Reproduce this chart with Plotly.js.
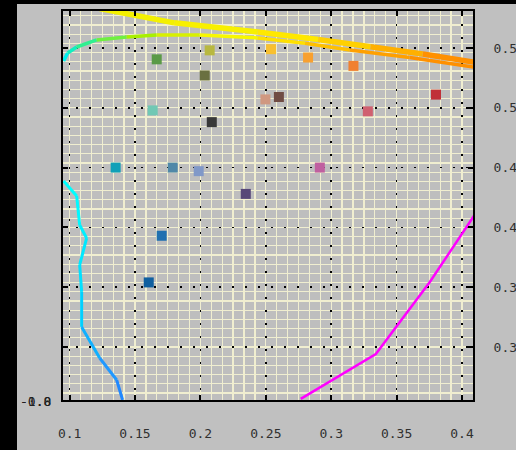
<!DOCTYPE html>
<html>
<head>
<meta charset="utf-8">
<script src="https://cdn.plot.ly/plotly-3.0.1.min.js"></script>
<style>html,body{margin:0;padding:0;background:#c0c0c0;overflow:hidden}#chart{width:516px;height:450px}</style>
</head>
<body>
<div id="chart"></div>
<script>
// ---- data ----
const xTickVals = [0.1, 0.15, 0.2, 0.25, 0.3, 0.35, 0.4];
const xTickText = ["0.1", "0.15", "0.2", "0.25", "0.3", "0.35", "0.4"];
const yTickVals = [0.3, 0.35, 0.4, 0.45, 0.5, 0.55];
const yTickText = ["0.3", "0.35", "0.4", "0.45", "0.5", "0.55"];

const squareX = [0.1666, 0.2071, 0.2033, 0.1635, 0.2087, 0.1352, 0.1788, 0.1987, 0.2347,
                 0.2540, 0.2823, 0.3170, 0.2497, 0.2600, 0.3280, 0.3801, 0.2913, 0.1704, 0.1605];
const squareY = [0.5405, 0.5480, 0.5270, 0.4978, 0.4880, 0.4500, 0.4500, 0.4470, 0.4280,
                 0.5490, 0.5420, 0.5350, 0.5070, 0.5090, 0.4970, 0.5110, 0.4500, 0.3930, 0.3540];
const squareColors = ["#5a9a46", "#b8b840", "#6a7040", "#70c8b4", "#383838", "#10a0b8", "#5088a8", "#8098c8", "#584878",
                      "#f8c030", "#f8a030", "#f08030", "#d09880", "#704c44", "#d06070", "#c03038", "#c060a0", "#2070b0", "#1060a0"];

// thick yellow -> orange line
const lineAX = [0.1230, 0.1800, 0.2438, 0.2900, 0.3300, 0.3700, 0.4100];
const lineAY = [0.5830, 0.5710, 0.5634, 0.5570, 0.5510, 0.5450, 0.5380];
const lineAColors = ["#f4f000", "#f8f000", "#ffe800", "#ffd000", "#ffb000", "#ff9000"];

// thinner cyan -> green -> yellow -> orange line
const lineBX = [0.0954, 0.0985, 0.1054, 0.1207, 0.1436, 0.1666, 0.1995, 0.2438, 0.2800, 0.3142, 0.3600, 0.4100];
const lineBY = [0.5391, 0.5458, 0.5508, 0.5567, 0.5592, 0.5609, 0.5609, 0.5584, 0.5540, 0.5483, 0.5420, 0.5338];
const lineBColors = ["#00f0f0", "#10f0c0", "#30f090", "#70f040", "#a8f000", "#d8f000", "#f8f800", "#ffe000", "#ffc000", "#ffa000", "#ff9000"];

// cyan -> blue line on the left
const lineCX = [0.0954, 0.1054, 0.1077, 0.1130, 0.1077, 0.1092, 0.1092, 0.1230, 0.1360, 0.1405];
const lineCY = [0.4388, 0.4263, 0.4020, 0.3910, 0.3686, 0.3460, 0.3168, 0.2908, 0.2724, 0.2557];
const lineCColors = ["#00ffff", "#00f8ff", "#00f0ff", "#00e8ff", "#00e0ff", "#00d0ff", "#10b0ff", "#2098ff", "#2088ff"];

// magenta line bottom right
const lineDX = [0.2767, 0.3341, 0.3754, 0.4100];
const lineDY = [0.2566, 0.2942, 0.3544, 0.4110];
const lineDColor = "#ff00ff";

// ---- build traces ----
const traces = [];
function segTraces(xs, ys, colors, width) {
  for (let i = 0; i < xs.length - 1; i++) {
    traces.push({
      type: "scatter", mode: "lines",
      x: [xs[i], xs[i + 1]], y: [ys[i], ys[i + 1]],
      line: {color: colors[i], width: width},
      hoverinfo: "skip", showlegend: false
    });
  }
}
segTraces(lineCX, lineCY, lineCColors, 3);
traces.push({type: "scatter", mode: "lines", x: lineDX, y: lineDY,
  line: {color: lineDColor, width: 2.5}, hoverinfo: "skip", showlegend: false});
segTraces(lineBX, lineBY, lineBColors, 3.5);
segTraces(lineAX, lineAY, lineAColors, 5.5);
traces.push({
  type: "scatter", mode: "markers",
  x: squareX, y: squareY,
  marker: {symbol: "square", size: 10, color: squareColors, line: {width: 0}},
  showlegend: false
});

const tickFont = {family: "DejaVu Sans Mono, monospace", size: 13, color: "#303030"};

const layout = {
  width: 516, height: 450,
  margin: {l: 63, r: 43, t: 11, b: 50, pad: 0},
  paper_bgcolor: "#c0c0c0",
  plot_bgcolor: "#bebebe",
  showlegend: false,
  xaxis: {
    range: [0.09495, 0.4084],
    tickmode: "array", tickvals: xTickVals, ticktext: xTickText,
    ticks: "inside", ticklen: 5, tickwidth: 2, tickcolor: "#000",
    showline: true, linecolor: "#000", linewidth: 2, mirror: "ticks",
    showgrid: true, gridcolor: "#000", gridwidth: 1.5, griddash: "2px,11px",
    minor: {dtick: 0.05 / 6, tick0: 0.1, showgrid: true, gridcolor: "#f0eed0", gridwidth: 1.3, griddash: "solid", ticks: ""},
    zeroline: false,
    tickfont: tickFont, ticklabelstandoff: 20
  },
  yaxis: {
    range: [0.2557, 0.5809],
    side: "right",
    tickmode: "array", tickvals: yTickVals, ticktext: yTickText,
    ticks: "inside", ticklen: 5, tickwidth: 2, tickcolor: "#000",
    showline: true, linecolor: "#000", linewidth: 2, mirror: "ticks",
    showgrid: true, gridcolor: "#000", gridwidth: 1.5, griddash: "2px,11px",
    minor: {dtick: 0.05 / 6.5, tick0: 0.3, showgrid: true, gridcolor: "#f0eed0", gridwidth: 1.3, griddash: "solid", ticks: ""},
    zeroline: false,
    tickfont: tickFont, ticklabelstandoff: 16
  },
  shapes: [
    {type: "rect", xref: "paper", yref: "paper", x0: -0.3, x1: -0.1122, y0: -0.3, y1: 1.2,
     fillcolor: "#000", line: {width: 0}, layer: "above"},
    {type: "rect", xref: "paper", yref: "paper", x0: -0.3, x1: 1.3, y0: 1.018, y1: 1.2,
     fillcolor: "#000", line: {width: 0}, layer: "above"}
  ],
  annotations: [
    {xref: "paper", yref: "paper", x: -0.066, y: -0.005, xanchor: "center", yanchor: "middle",
     text: "-1.0", showarrow: false, font: {family: "DejaVu Sans Mono, monospace", size: 13, color: "#202020"}},
    {xref: "paper", yref: "paper", x: -0.066, y: -0.005, xanchor: "center", yanchor: "middle",
     text: "-0.8", showarrow: false, font: {family: "DejaVu Sans Mono, monospace", size: 13, color: "#202020"}}
  ]
};

Plotly.newPlot("chart", traces, layout, {displayModeBar: false, staticPlot: true});
</script>
</body>
</html>
